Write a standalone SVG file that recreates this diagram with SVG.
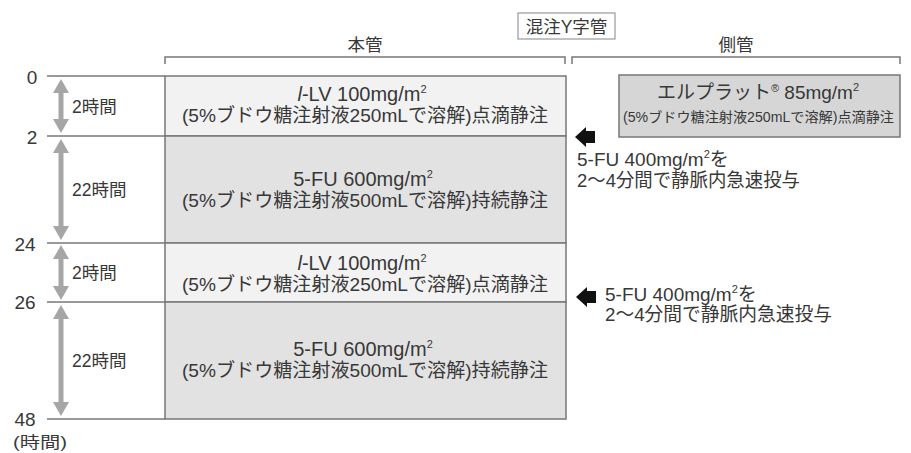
<svg xmlns="http://www.w3.org/2000/svg" width="911" height="453" viewBox="0 0 911 453">
<style>
text{font-family:"Liberation Sans","Noto Sans CJK JP",sans-serif;fill:#383838;}
.t{font-size:19px;}
.j{font-size:17.5px;}
.c{text-anchor:middle;}
.ln{stroke:#777;stroke-width:1.5;fill:none;}
.ga{stroke:#a6a6a6;stroke-width:5;marker-start:url(#ah);marker-end:url(#ah);}
.light{fill:#f2f2f2;stroke:#777;stroke-width:1.5;}
.dark{fill:#e2e2e2;stroke:#777;stroke-width:1.5;}
.sup{font-size:11px;}
</style>
<defs>
<marker id="ah" viewBox="0 0 14 16" refX="3" refY="8" markerWidth="14" markerHeight="16" markerUnits="userSpaceOnUse" orient="auto-start-reverse">
<path d="M0,0 L14,8 L0,16 Z" fill="#a6a6a6"/>
</marker>
<path id="blk" d="M0,0 L11,-10 L11,-6 L20,-6 L20,6 L11,6 L11,10 Z" fill="#111"/>
</defs>

<g id="header">
<rect x="518" y="13" width="97" height="26" fill="#fff" stroke="#999" stroke-width="1.2"/>
<text x="566.5" y="33" class="j c">混注Y字管</text>
<text x="365" y="51" class="j c">本管</text>
<text x="736" y="51" class="j c">側管</text>
<path class="ln" d="M165,64 V57 H565 V64"/>
<path class="ln" d="M572,64 V57 H900 V64"/>
</g>

<g id="axis">
<line class="ln" x1="47" y1="76" x2="165" y2="76"/>
<line class="ln" x1="47" y1="136" x2="165" y2="136"/>
<line class="ln" x1="47" y1="243" x2="165" y2="243"/>
<line class="ln" x1="47" y1="302" x2="165" y2="302"/>
<line class="ln" x1="47" y1="419" x2="165" y2="419"/>
<text x="32" y="84" class="t c">0</text>
<text x="32" y="144" class="t c">2</text>
<text x="25" y="251" class="t c">24</text>
<text x="25" y="309" class="t c">26</text>
<text x="25" y="426" class="t c">48</text>
<text x="13" y="448" style="font-size:16px" textLength="54" lengthAdjust="spacingAndGlyphs">(時間)</text>
</g>

<g id="durations">
<line class="ga" x1="61" y1="90" x2="61" y2="122"/>
<line class="ga" x1="61" y1="150" x2="61" y2="229"/>
<line class="ga" x1="61" y1="256" x2="61" y2="289"/>
<line class="ga" x1="61" y1="316" x2="61" y2="405"/>
<text x="72" y="113" class="j">2時間</text>
<text x="72" y="196" class="j">22時間</text>
<text x="72" y="279" class="j">2時間</text>
<text x="72" y="367" class="j">22時間</text>
</g>

<g id="row1">
<rect class="light" x="165" y="76" width="401" height="60"/>
<text x="362" y="101" class="t c" style="font-size:20px"><tspan font-style="italic">l</tspan>-LV 100mg/m<tspan class="sup" dy="-8">2</tspan></text>
<text x="365" y="122" class="t c" textLength="366" lengthAdjust="spacingAndGlyphs">(5%ブドウ糖注射液250mLで溶解)点滴静注</text>
</g>
<g id="row2">
<rect class="dark" x="165" y="136" width="401" height="107"/>
<text x="363" y="186" class="t c" style="font-size:20px">5-FU 600mg/m<tspan class="sup" dy="-8">2</tspan></text>
<text x="365" y="207" class="t c" textLength="366" lengthAdjust="spacingAndGlyphs">(5%ブドウ糖注射液500mLで溶解)持続静注</text>
</g>
<g id="row3">
<rect class="light" x="165" y="243" width="401" height="59"/>
<text x="362" y="270" class="t c" style="font-size:20px"><tspan font-style="italic">l</tspan>-LV 100mg/m<tspan class="sup" dy="-8">2</tspan></text>
<text x="365" y="291" class="t c" textLength="366" lengthAdjust="spacingAndGlyphs">(5%ブドウ糖注射液250mLで溶解)点滴静注</text>
</g>
<g id="row4">
<rect class="dark" x="165" y="302" width="401" height="117"/>
<text x="363" y="356" class="t c" style="font-size:20px">5-FU 600mg/m<tspan class="sup" dy="-8">2</tspan></text>
<text x="365" y="377" class="t c" textLength="366" lengthAdjust="spacingAndGlyphs">(5%ブドウ糖注射液500mLで溶解)持続静注</text>
</g>

<g id="elplat">
<rect x="619" y="75" width="281" height="62" fill="#d6d6d6" stroke="#777" stroke-width="1.5"/>
<text x="758" y="99" class="t c">エルプラット<tspan class="sup" dy="-7">®</tspan><tspan dy="7"> 85mg/m</tspan><tspan class="sup" dy="-8">2</tspan></text>
<text x="623" y="122" style="font-size:14px" textLength="271" lengthAdjust="spacingAndGlyphs">(5%ブドウ糖注射液250mLで溶解)点滴静注</text>
</g>

<g id="bolus1">
<use href="#blk" x="575" y="137"/>
<text x="577" y="166" class="t">5-FU 400mg/m<tspan class="sup" dy="-8">2</tspan><tspan dy="8">を</tspan></text>
<text x="577" y="187" class="t" textLength="223" lengthAdjust="spacingAndGlyphs">2〜4分間で静脈内急速投与</text>
</g>
<g id="bolus2">
<use href="#blk" x="576" y="297"/>
<text x="605" y="301" class="t">5-FU 400mg/m<tspan class="sup" dy="-8">2</tspan><tspan dy="8">を</tspan></text>
<text x="605" y="321" class="t" textLength="227" lengthAdjust="spacingAndGlyphs">2〜4分間で静脈内急速投与</text>
</g>
</svg>
